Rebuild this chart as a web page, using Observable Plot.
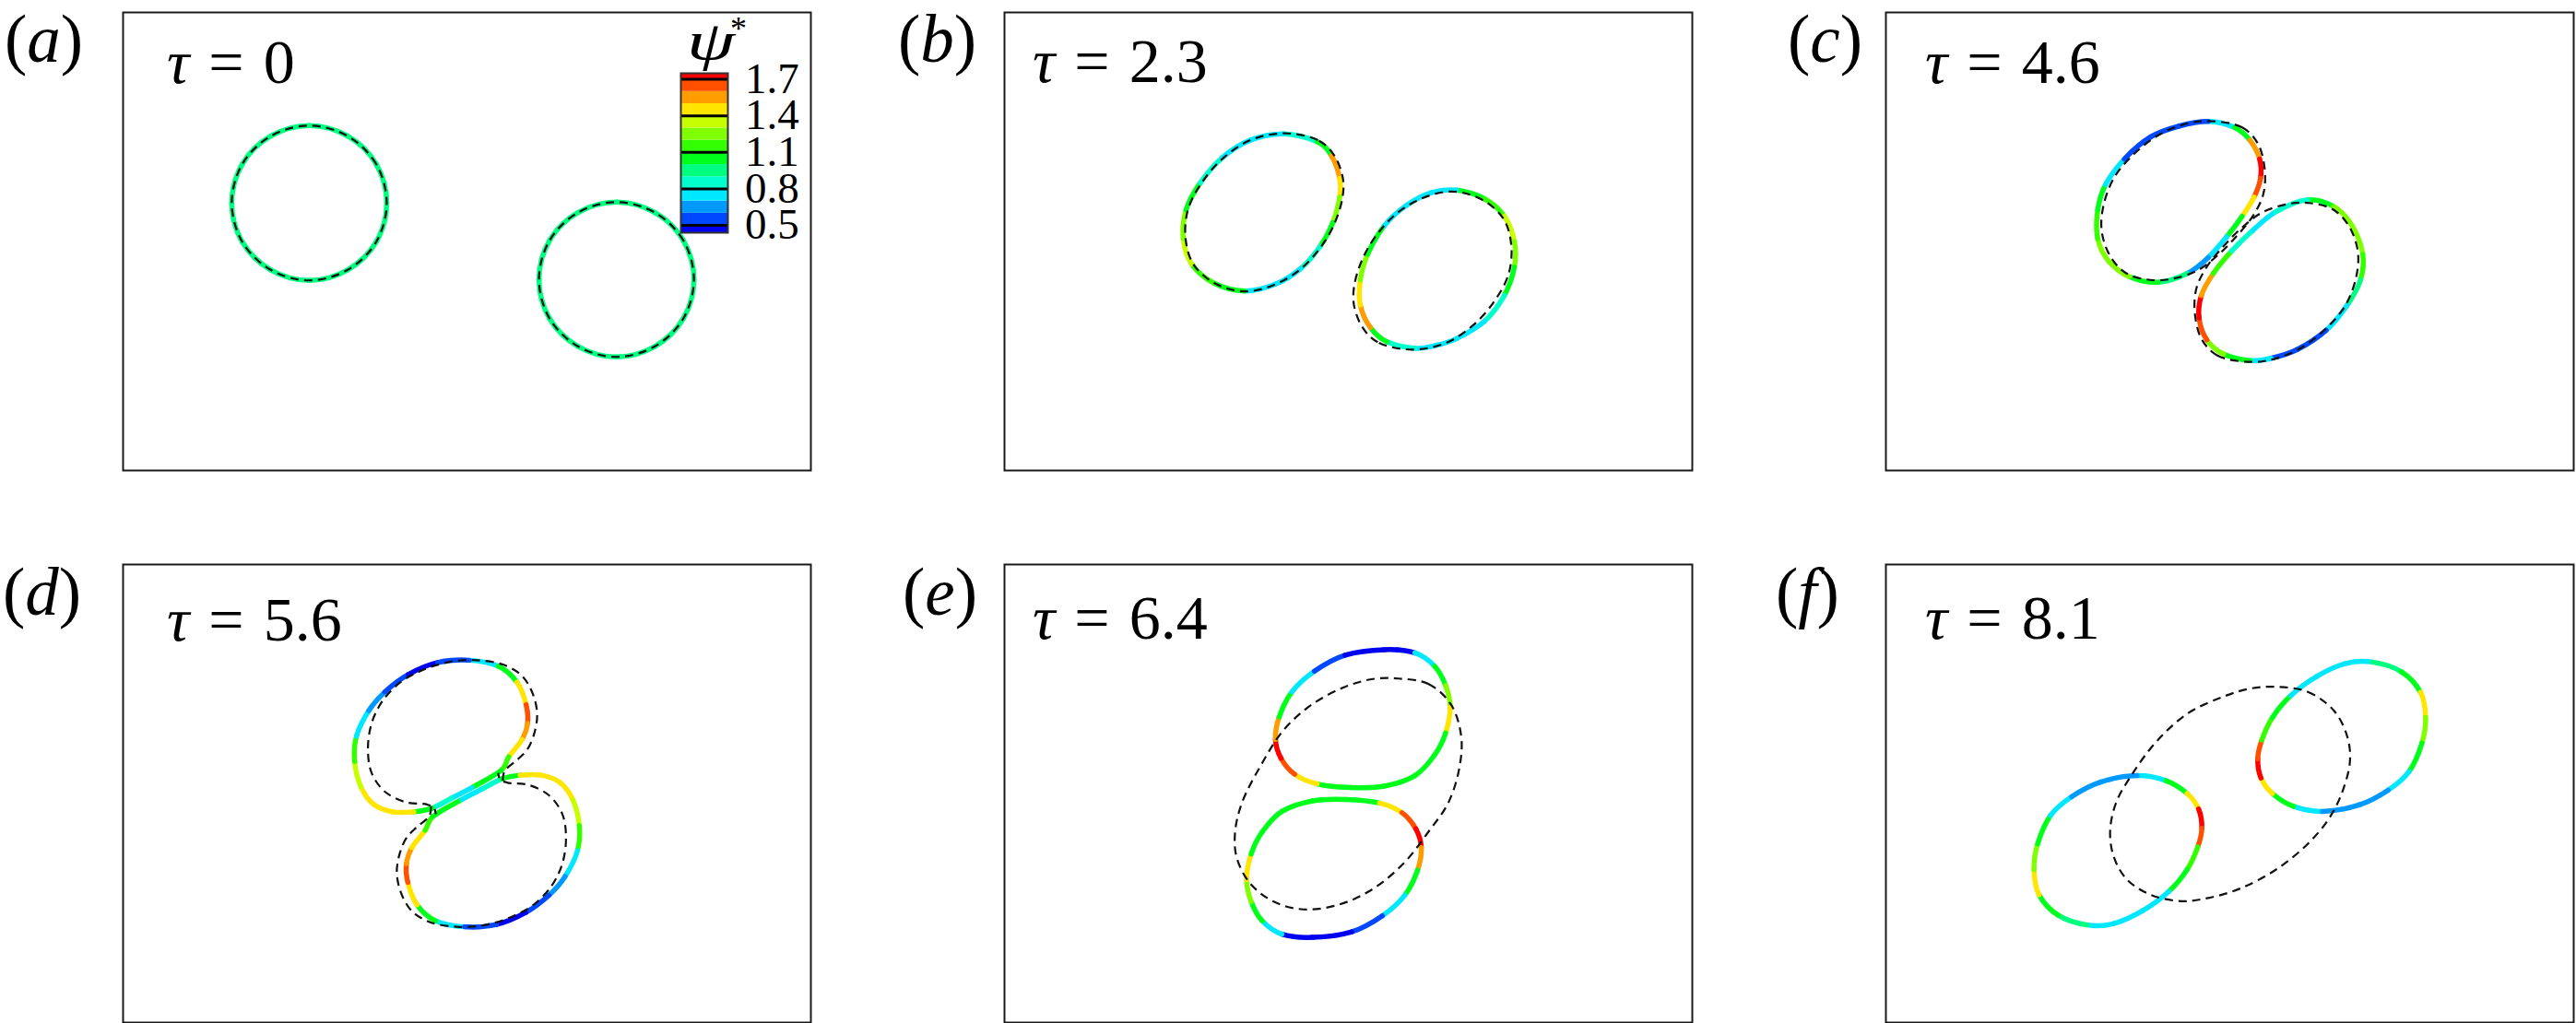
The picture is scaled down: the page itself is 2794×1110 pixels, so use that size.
<!DOCTYPE html>
<html>
<head>
<meta charset="utf-8">
<script src="https://cdn.jsdelivr.net/npm/d3@7"></script>
<script src="https://cdn.jsdelivr.net/npm/@observablehq/plot@0.6"></script>
<style>
html, body { margin: 0; padding: 0; background: #fff; }
#root { position: relative; width: 2794px; height: 1110px; overflow: hidden; font-family: "Liberation Serif", "Times New Roman", serif; color: #000; }
#root svg { position: absolute; }
.lbl { position: absolute; line-height: 1.107; white-space: pre; }
</style>
</head>
<body>
<div id="root"></div>
<script>
// ---------------- data ----------------
const panels = ["a", "b", "c", "d", "e", "f"];
const tauValues = ["0", "2.3", "4.6", "5.6", "6.4", "8.1"];
const psiLevels = [0.5, 0.6, 0.7, 0.8, 0.9, 1.0, 1.1, 1.2, 1.3, 1.4, 1.5, 1.6, 1.7];
const psiColors = ["#0000f0", "#0048ff", "#0099ff", "#00e8ff", "#00ffcc", "#00ff80", "#00ff1a",
                   "#33ff00", "#80ff00", "#c8ff00", "#ffe500", "#ff9c00", "#ff5000", "#ff0000"];
const psiTicks = [0.5, 0.8, 1.1, 1.4, 1.7];
const psiRange = [0.44, 1.75];

// drop interfaces: [x, y, psi*] traced along each interface
const dropA1 = [[5.75,5.84,0.95],[5.52,6.69,0.95],[4.90,7.30,0.95],[4.06,7.53,0.95],[3.22,7.30,0.95],[2.60,6.69,0.95],[2.37,5.84,0.95],[2.60,4.99,0.95],[3.22,4.38,0.95],[4.06,4.15,0.95],[4.90,4.38,0.95],[5.52,4.99,0.95]];
const dropA2 = [[12.45,4.17,0.95],[12.22,5.02,0.95],[11.60,5.63,0.95],[10.76,5.86,0.95],[9.92,5.63,0.95],[9.30,5.02,0.95],[9.07,4.17,0.95],[9.30,3.32,0.95],[9.92,2.71,0.95],[10.76,2.48,0.95],[11.60,2.71,0.95],[12.22,3.32,0.95]];

const dropB1 = [[6.09,7.35,0.85],[6.82,7.18,1.05],[7.13,6.87,1.55],[7.31,6.38,1.45],[7.31,5.97,1.25],[7.16,5.41,1.05],[6.88,4.89,0.85],[6.46,4.41,0.75],[5.91,4.07,0.75],[5.24,3.92,1.05],[4.57,4.09,1.15],[4.08,4.51,1.35],[3.90,5.06,1.25],[3.96,5.69,1.05],[4.27,6.28,0.85],[4.75,6.83,0.75],[5.36,7.21,0.75]];
const dropB2 = [[9.86,6.12,1.05],[10.47,5.93,1.15],[10.90,5.55,1.35],[11.12,5.00,1.25],[11.12,4.44,1.05],[10.90,3.82,0.85],[10.47,3.26,0.75],[9.86,2.88,0.75],[9.40,2.73,0.75],[8.95,2.67,0.85],[8.34,2.81,1.05],[7.98,3.12,1.55],[7.76,3.61,1.45],[7.76,4.16,1.25],[7.92,4.72,1.05],[8.28,5.34,0.78],[8.77,5.79,0.75],[9.32,6.07,0.75]];

const dropC1 = [[7.03,7.62,0.75],[7.60,7.49,1.05],[7.94,7.21,1.55],[8.15,6.80,1.75],[8.17,6.38,1.65],[8.03,5.97,1.45],[7.77,5.55,1.05],[7.43,5.10,0.78],[7.03,4.65,0.65],[6.57,4.30,0.95],[5.94,4.11,1.05],[5.31,4.23,1.25],[4.85,4.58,1.25],[4.62,5.06,1.15],[4.62,5.69,1.05],[4.79,6.24,0.75],[5.20,6.80,0.55],[5.77,7.28,0.55],[6.40,7.52,0.55]];
const dropC2 = [[9.20,5.91,1.05],[9.77,5.76,1.25],[10.17,5.34,1.25],[10.40,4.72,1.15],[10.35,4.16,0.95],[10.06,3.61,0.75],[9.60,3.06,0.55],[8.97,2.64,0.55],[8.40,2.45,0.75],[7.94,2.40,1.05],[7.37,2.54,1.25],[7.00,2.85,1.65],[6.83,3.33,1.75],[6.88,3.82,1.55],[7.14,4.30,1.15],[7.54,4.79,0.85],[8.00,5.24,0.75],[8.51,5.65,0.85]];

const dropD1 = [[7.55,7.91,0.75],[8.18,7.78,1.05],[8.59,7.43,1.45],[8.79,6.94,1.65],[8.82,6.53,1.55],[8.70,6.18,1.45],[8.41,5.80,1.15],[8.24,5.50,1.05],[7.61,5.13,0.78],[7.15,4.89,0.85],[6.74,4.68,1.05],[6.34,4.60,1.45],[5.88,4.60,1.45],[5.47,4.76,1.45],[5.19,5.14,1.35],[5.05,5.70,1.15],[5.09,6.25,0.78],[5.36,6.81,0.65],[5.71,7.22,0.55],[6.22,7.60,0.45],[6.86,7.86,0.55]];
const dropD2 = [[7.45,2.09,0.75],[6.82,2.22,1.05],[6.41,2.57,1.45],[6.21,3.06,1.65],[6.18,3.47,1.55],[6.30,3.82,1.45],[6.59,4.20,1.15],[6.76,4.50,1.05],[7.39,4.87,0.78],[7.85,5.11,0.85],[8.26,5.32,1.05],[8.66,5.40,1.45],[9.12,5.40,1.45],[9.53,5.24,1.45],[9.81,4.86,1.35],[9.95,4.30,1.15],[9.91,3.75,0.78],[9.64,3.19,0.65],[9.29,2.78,0.55],[8.78,2.40,0.45],[8.14,2.14,0.55]];

const dropE1 = [[8.28,8.14,0.45],[8.95,8.07,0.75],[9.38,7.78,1.05],[9.62,7.36,1.25],[9.72,6.88,1.45],[9.62,6.32,1.05],[9.38,5.84,1.05],[8.95,5.39,1.05],[8.28,5.16,1.05],[7.55,5.13,1.05],[6.82,5.21,1.45],[6.33,5.42,1.65],[6.03,5.77,1.75],[5.91,6.18,1.55],[5.99,6.67,1.05],[6.27,7.22,0.75],[6.76,7.67,0.55],[7.43,8.02,0.45]];
const dropE2 = [[6.72,1.86,0.45],[6.05,1.93,0.75],[5.62,2.22,1.05],[5.38,2.64,1.25],[5.28,3.12,1.45],[5.38,3.68,1.05],[5.62,4.16,1.05],[6.05,4.61,1.05],[6.72,4.84,1.05],[7.45,4.87,1.05],[8.18,4.79,1.45],[8.67,4.58,1.65],[8.97,4.23,1.75],[9.09,3.82,1.55],[9.01,3.33,1.05],[8.73,2.78,0.75],[8.24,2.33,0.55],[7.57,1.98,0.45]];

const dropF1 = [[5.48,5.39,0.75],[6.11,5.28,1.05],[6.57,5.00,1.45],[6.82,4.66,1.75],[6.89,4.24,1.65],[6.80,3.83,1.15],[6.57,3.34,1.05],[6.17,2.86,0.78],[5.60,2.44,0.75],[4.97,2.16,0.75],[4.39,2.13,0.95],[3.76,2.34,1.05],[3.34,2.79,1.45],[3.23,3.34,1.25],[3.31,3.90,1.05],[3.59,4.52,0.75],[4.05,4.93,0.65],[4.68,5.25,0.65]];
const dropF2 = [[9.52,4.61,0.75],[8.89,4.72,1.05],[8.43,5.00,1.45],[8.18,5.34,1.75],[8.11,5.76,1.65],[8.20,6.17,1.15],[8.43,6.66,1.05],[8.83,7.14,0.78],[9.40,7.56,0.75],[10.03,7.84,0.75],[10.61,7.87,0.95],[11.24,7.66,1.05],[11.66,7.21,1.45],[11.77,6.66,1.25],[11.69,6.10,1.05],[11.41,5.48,0.75],[10.95,5.07,0.65],[10.32,4.75,0.65]];

// dashed reference interfaces: [x, y]
const dashB1 = [[6.12,7.36],[6.86,7.20],[7.19,6.88],[7.38,6.38],[7.37,5.95],[7.20,5.40],[6.90,4.88],[6.46,4.40],[5.90,4.06],[5.24,3.91],[4.60,4.08],[4.12,4.50],[3.95,5.06],[4.00,5.69],[4.30,6.28],[4.78,6.83],[5.38,7.22]];
const dashB2 = [[8.88,2.64],[8.14,2.80],[7.81,3.12],[7.62,3.62],[7.63,4.05],[7.80,4.60],[8.10,5.12],[8.54,5.60],[9.10,5.94],[9.76,6.09],[10.40,5.92],[10.88,5.50],[11.05,4.94],[11.00,4.31],[10.70,3.72],[10.22,3.17],[9.62,2.78]];
const dashC1 = [[7.03,7.63],[7.77,7.49],[8.11,7.14],[8.26,6.59],[8.23,6.03],[8.00,5.55],[7.66,5.13],[7.26,4.72],[6.80,4.37],[6.22,4.18],[5.77,4.16],[5.25,4.30],[4.91,4.65],[4.71,5.20],[4.74,5.76],[4.97,6.38],[5.37,6.87],[5.94,7.32],[6.51,7.56]];
const dashC2 = [[7.97,2.37],[7.23,2.51],[6.89,2.86],[6.74,3.41],[6.77,3.97],[7.00,4.45],[7.34,4.87],[7.74,5.28],[8.20,5.63],[8.78,5.82],[9.23,5.84],[9.75,5.70],[10.09,5.35],[10.29,4.80],[10.26,4.24],[10.03,3.62],[9.63,3.13],[9.06,2.68],[8.49,2.44]];
const dashD1 = [[8.28,5.28],[8.32,5.49],[8.59,5.73],[8.82,5.97],[8.97,6.32],[9.03,6.74],[8.93,7.19],[8.70,7.57],[8.30,7.81],[7.72,7.91],[7.15,7.88],[6.57,7.71],[6.05,7.43],[5.65,7.01],[5.42,6.53],[5.34,5.97],[5.42,5.45],[5.71,5.04],[6.17,4.81],[6.63,4.76],[6.78,4.69],[6.82,4.55]];
const dashD2 = [[6.72,4.72],[6.68,4.51],[6.41,4.27],[6.18,4.03],[6.03,3.68],[5.97,3.26],[6.07,2.81],[6.30,2.43],[6.70,2.19],[7.28,2.09],[7.85,2.12],[8.43,2.29],[8.95,2.57],[9.35,2.99],[9.58,3.47],[9.66,4.03],[9.58,4.55],[9.29,4.96],[8.83,5.19],[8.37,5.24],[8.22,5.31],[8.18,5.45]];
const dashE = [[8.59,7.51],[9.25,7.39],[9.74,6.94],[9.96,6.25],[9.92,5.56],[9.68,4.80],[9.25,4.17],[8.71,3.48],[8.04,2.92],[7.31,2.58],[6.52,2.47],[5.85,2.65],[5.34,3.06],[5.06,3.62],[5.03,4.17],[5.18,4.80],[5.60,5.63],[6.09,6.39],[6.70,6.94],[7.43,7.33],[8.04,7.50]];
const dashF = [[8.51,7.33],[9.20,7.22],[9.77,6.81],[10.06,6.25],[10.12,5.70],[9.94,5.00],[9.66,4.45],[9.20,3.90],[8.51,3.34],[7.71,2.92],[7.03,2.72],[6.45,2.65],[5.77,2.79],[5.25,3.13],[4.97,3.62],[4.89,4.17],[5.02,4.80],[5.37,5.42],[5.88,6.11],[6.57,6.74],[7.37,7.12],[7.94,7.29]];

const coloredDrops = [["a", dropA1], ["a", dropA2], ["b", dropB1], ["b", dropB2], ["c", dropC1], ["c", dropC2],
                      ["d", dropD1], ["d", dropD2], ["e", dropE1], ["e", dropE2], ["f", dropF1], ["f", dropF2]];
const dashedClosed = [["a", dropA1], ["a", dropA2], ["b", dashB1], ["b", dashB2], ["c", dashC1], ["c", dashC2], ["e", dashE], ["f", dashF]];
const dashedOpen = [["d", dashD1], ["d", dashD2]];

// ---------------- layout (page pixels) ----------------
const letterPos = {a: [5, 68], b: [974, 68], c: [1939, 68], d: [3, 668], e: [979, 668], f: [1926, 668]};
const tauPos = {a: [181, 91], b: [1120, 90], c: [2088, 91], d: [181, 696], e: [1120, 694], f: [2088, 694]};

// ---------------- build table ----------------
const rows = [];
// each colored segment j of a loop keeps its two neighbours so the curve stays smooth across colour changes
function addSegments(list, kind) {
  list.forEach(([p, pts], k) => {
    const i = panels.indexOf(p), n = pts.length;
    for (let j = 0; j < n; ++j) {
      const id = kind + p + k + "-" + j;
      const psi = pts[j][2];
      for (const o of [-1, 0, 1, 2]) {
        const q = pts[(j + o + n) % n];
        rows.push({kind, id, col: i % 3, row: Math.floor(i / 3), x: q[0], y: q[1], psi});
      }
    }
  });
}
function addShapes(list, kind) {
  list.forEach(([p, pts], k) => {
    const i = panels.indexOf(p);
    for (const q of pts) rows.push({kind, id: kind + p + k, col: i % 3, row: Math.floor(i / 3), x: q[0], y: q[1]});
  });
}
addSegments(coloredDrops, "drop");
addShapes(dashedClosed, "dashC");
addShapes(dashedOpen, "dashO");

// Catmull-Rom curve that draws only the middle span of a 4-point series
function middleSpan(context) {
  let p = [];
  return {
    areaStart() {}, areaEnd() {},
    lineStart() { p = []; },
    point(x, y) { p.push([+x, +y]); },
    lineEnd() {
      if (p.length === 4) {
        const [a, b, c, d] = p;
        context.moveTo(b[0], b[1]);
        context.bezierCurveTo(b[0] + (c[0] - a[0]) / 6, b[1] + (c[1] - a[1]) / 6,
                              c[0] - (d[0] - b[0]) / 6, c[1] - (d[1] - b[1]) / 6, c[0], c[1]);
      } else if (p.length > 1) {
        context.moveTo(p[0][0], p[0][1]);
        for (let k = 1; k < p.length; ++k) context.lineTo(p[k][0], p[k][1]);
      }
    }
  };
}

const root = document.getElementById("root");

const chart = Plot.plot({
  width: 2794, height: 1110,
  marginLeft: 132, marginRight: 1, marginTop: 13, marginBottom: 1,
  style: {background: "transparent"},
  facet: {data: rows, x: "col", y: "row"},
  fx: {domain: [0, 1, 2], paddingInner: 0.2194, paddingOuter: 0, axis: null, label: null},
  fy: {domain: [0, 1], paddingInner: 0.1703, paddingOuter: 0, axis: null, label: null},
  x: {domain: [0, 15], axis: null},
  y: {domain: [0, 10], axis: null},
  color: {type: "threshold", domain: psiLevels, range: psiColors},
  marks: [
    Plot.frame({stroke: "#1a1a1a", strokeWidth: 2}),
    Plot.line(rows, {filter: d => d.kind === "drop", x: "x", y: "y", z: "id", stroke: "psi",
      strokeWidth: 5.5, curve: middleSpan}),
    Plot.line(rows, {filter: d => d.kind === "dashC", x: "x", y: "y", z: "id", stroke: "#111",
      strokeWidth: 2.2, strokeDasharray: "9,6", strokeLinecap: "butt", curve: "catmull-rom-closed"}),
    Plot.line(rows, {filter: d => d.kind === "dashO", x: "x", y: "y", z: "id", stroke: "#111",
      strokeWidth: 2.2, strokeDasharray: "9,6", strokeLinecap: "butt", curve: "catmull-rom"})
  ]
});
chart.style.left = "0px";
chart.style.top = "0px";
root.appendChild(chart);

// ---------------- colour bar (legend) ----------------
const edges = [psiRange[0], ...psiLevels, psiRange[1]];
const bands = edges.slice(0, -1).map((lo, i) => ({lo, hi: edges[i + 1], mid: (lo + edges[i + 1]) / 2}));
const barLeft = 736, barTop = 77;
const bar = Plot.plot({
  width: 2 + 51 + 2, height: 2 + 173 + 2,
  marginLeft: 2, marginRight: 2, marginTop: 2, marginBottom: 2,
  style: {background: "transparent", overflow: "visible"},
  y: {domain: psiRange, axis: null},
  color: {type: "threshold", domain: psiLevels, range: psiColors},
  marks: [
    Plot.rect(bands, {y1: "lo", y2: "hi", fill: "mid"}),
    Plot.ruleY(psiTicks, {stroke: "#000", strokeWidth: 3}),
    Plot.frame({stroke: "#333", strokeWidth: 2})
  ]
});
bar.style.left = barLeft + "px";
bar.style.top = barTop + "px";
root.appendChild(bar);

// ---------------- text labels ----------------
function addLabel(html, left, baseline, size) {
  const d = document.createElement("div");
  d.className = "lbl";
  d.style.left = left + "px";
  d.style.top = (baseline - 0.891 * size) + "px";
  d.style.fontSize = size + "px";
  d.innerHTML = html;
  root.appendChild(d);
  return d;
}
panels.forEach((p, i) => {
  addLabel("(<i>" + p + "</i>)", letterPos[p][0], letterPos[p][1], 73);
  addLabel('<i>\u03C4</i><span style="word-spacing:4px"> = ' + tauValues[i] + "</span>", tauPos[p][0], tauPos[p][1], 68);
});
addLabel('<i style="display:inline-block;transform:scaleX(1.4);transform-origin:0 50%">\u03C8</i>', 745, 64, 60);
addLabel("*", 792, 44, 36);

// colour-bar tick labels, one block placed with the bar's own scale
const sy = bar.scale("y");
const ticksDesc = psiTicks.slice().sort((a, b) => b - a);
const step = sy.apply(ticksDesc[1]) - sy.apply(ticksDesc[0]);
const tk = document.createElement("div");
tk.className = "lbl";
tk.style.left = "808px";
tk.style.top = (barTop + sy.apply(ticksDesc[0]) - step / 2) + "px";
tk.style.fontSize = "47px";
tk.style.lineHeight = step + "px";
tk.textContent = ticksDesc.map(v => v.toFixed(1)).join("\n");
root.appendChild(tk);
</script>
</body>
</html>
